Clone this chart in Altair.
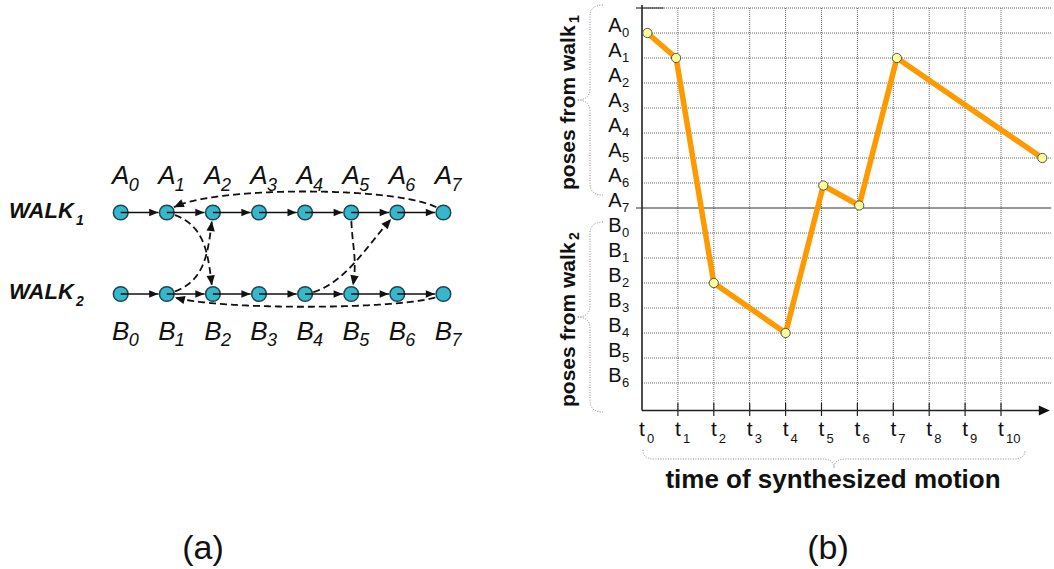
import math
import altair as alt
import pandas as pd

FONT = "Liberation Sans"
INK = "#111111"

# ---------------- (a) two walks and the transitions between them ----------------
walk_label = ["WALK", "WALK"]
walk_index = ["1", "2"]
pose_letter = ["A", "B"]
pose_number = ["0", "1", "2", "3", "4", "5", "6", "7"]

# dashed transitions between poses of the two walks
trans_from = ["A7", "B7", "A1", "B1", "A5", "B4"]
trans_to = ["A1", "B1", "B2", "A2", "B5", "A6"]

# ---------------- (b) motion synthesized from the graph ----------------
time_labels = ["t0", "t1", "t2", "t3", "t4", "t5", "t6", "t7", "t8", "t9", "t10"]
pose_axis_labels = ["A0", "A1", "A2", "A3", "A4", "A5", "A6", "A7",
                    "B0", "B1", "B2", "B3", "B4", "B5", "B6"]
motion_time = [0.15, 0.95, 2.0, 4.0, 5.05, 6.05, 7.1, 11.15]
motion_pose = [0, 1, 10, 12, 6.1, 6.9, 1, 5]

# ---------------- layout / style ----------------
H = 569
PANEL_A_W = 642
PANEL_B_W = 412
NODE_X0, ROW_Y0 = 120.7, 212.5      # pixel position of A0
KX, KY = 46.1, 81.5                  # pixels per pose step / per walk row
NODE_R = 8.3
KT, KP = 35.9, 25.0                  # pixels per time step / per pose row
TOP_PX = 8.0                         # pixel position of the row above A0

# curve handles (pixels) for each dashed transition: near source, near target
HANDLES = [((-22, -28), (22, -28)),
           ((-22, 17), (22, 17)),
           ((40, 10), (-5, -40)),
           ((40, -10), (-5, 40)),
           ((0, 35), (8, -35)),
           ((40, -6), (-28, 28))]

ARROW = "M0,0 L-1,-0.42 L-1,0.42 Z"
BRACE_V = "M0.137,-1 Q0,-1 0,-0.88 L0,-0.12 Q0,0 -0.137,0 Q0,0 0,0.12 L0,0.88 Q0,1 0.137,1"
BRACE_H = "M-1,-0.047 Q-1,0 -0.94,0 L-0.06,0 Q0,0 0,0.047 Q0,0 0.06,0 L0.94,0 Q1,0 1,-0.047"


def arrow_size(length):
    return (2 * length) ** 2


def node_px(name):
    return (KX * int(name[1:]), KY * pose_letter.index(name[0]))


def bezier(p0, p1, p2, p3, t):
    u = 1 - t
    return tuple(u ** 3 * p0[k] + 3 * u * u * t * p1[k] + 3 * u * t * t * p2[k] + t ** 3 * p3[k]
                 for k in range(2))


# ---- (a) data ----
nodes = pd.DataFrame([
    {"x": i, "y": r, "letter": pose_letter[r], "digit": d}
    for r in range(len(pose_letter)) for i, d in enumerate(pose_number)
])

gap = NODE_R / KX
shafts = pd.DataFrame([
    {"x": i, "x2": i + 1 - gap, "y": r}
    for r in range(len(pose_letter)) for i in range(len(pose_number) - 1)
])
solid_heads = pd.DataFrame([
    {"x": i + 1 - (NODE_R + 0.3) / KX, "y": r, "ang": 0.0}
    for r in range(len(pose_letter)) for i in range(len(pose_number) - 1)
])

curve_rows, head_rows = [], []
for e, (src, dst) in enumerate(zip(trans_from, trans_to)):
    p0, p3 = node_px(src), node_px(dst)
    h1, h2 = HANDLES[e]
    p1 = (p0[0] + h1[0], p0[1] + h1[1])
    p2 = (p3[0] + h2[0], p3[1] + h2[1])
    pts = [bezier(p0, p1, p2, p3, k / 300) for k in range(301)]
    pts = [p for p in pts
           if math.dist(p, p0) >= NODE_R and math.dist(p, p3) >= NODE_R + 0.3]
    for s, (px, py) in enumerate(pts):
        curve_rows.append({"edge": e, "seq": s, "x": px / KX, "y": py / KY})
    tip = pts[-1]
    back = next(p for p in reversed(pts) if math.dist(p, tip) >= 3)
    ang = math.degrees(math.atan2(tip[1] - back[1], tip[0] - back[0])) % 360
    head_rows.append({"x": tip[0] / KX, "y": tip[1] / KY, "ang": ang})
curves = pd.DataFrame(curve_rows)
dashed_heads = pd.DataFrame(head_rows)

walks = pd.DataFrame({"y": [0, 1], "name": walk_label, "sub": walk_index})

xa = alt.Scale(domain=[-NODE_X0 / KX, (PANEL_A_W - NODE_X0) / KX], nice=False, zero=False)
ya = alt.Scale(domain=[-ROW_Y0 / KY, (H - ROW_Y0) / KY], reverse=True, nice=False, zero=False)


def XA(f):
    return alt.X(f, type="quantitative", scale=xa, axis=None)


def YA(f):
    return alt.Y(f, type="quantitative", scale=ya, axis=None)


node_layer = alt.Chart(nodes).mark_point(
    shape="circle", filled=True, fill="#36B7CB", stroke="#1d4650", strokeWidth=1.5,
    size=math.pi * NODE_R ** 2, opacity=1
).encode(x=XA("x"), y=YA("y"))

shaft_layer = alt.Chart(shafts).mark_rule(color=INK, strokeWidth=1.6).encode(
    x=XA("x"), x2="x2", y=YA("y"))

solid_head_layer = alt.Chart(solid_heads).mark_point(
    shape=ARROW, filled=True, color=INK, size=arrow_size(9), opacity=1
).encode(x=XA("x"), y=YA("y"), angle=alt.Angle("ang:Q", scale=None))

curve_layer = alt.Chart(curves).mark_line(
    color=INK, strokeWidth=1.8, strokeDash=[7, 4]
).encode(x=XA("x"), y=YA("y"), detail="edge:N", order="seq:Q")

dashed_head_layer = alt.Chart(dashed_heads).mark_point(
    shape=ARROW, filled=True, color=INK, size=arrow_size(10), opacity=1
).encode(x=XA("x"), y=YA("y"), angle=alt.Angle("ang:Q", scale=None))

label_style = dict(font=FONT, fontStyle="italic", color=INK, baseline="alphabetic")
a_nodes = nodes[nodes["letter"] == "A"]
b_nodes = nodes[nodes["letter"] == "B"]
a_letters = alt.Chart(a_nodes).mark_text(fontSize=26, align="center", dy=-28.5, **label_style).encode(
    x=XA("x"), y=YA("y"), text="letter:N")
a_digits = alt.Chart(a_nodes).mark_text(fontSize=18, align="left", dx=8, dy=-22, **label_style).encode(
    x=XA("x"), y=YA("y"), text="digit:N")
b_letters = alt.Chart(b_nodes).mark_text(fontSize=26, align="center", dy=46, **label_style).encode(
    x=XA("x"), y=YA("y"), text="letter:N")
b_digits = alt.Chart(b_nodes).mark_text(fontSize=18, align="left", dx=8, dy=52, **label_style).encode(
    x=XA("x"), y=YA("y"), text="digit:N")

walk_names = alt.Chart(walks).mark_text(
    font=FONT, fontSize=22, fontStyle="italic", fontWeight="bold", color=INK,
    align="left", baseline="alphabetic", dy=5
).encode(x=alt.value(9), y=YA("y"), text="name:N")
walk_subs = alt.Chart(walks).mark_text(
    font=FONT, fontSize=14, fontStyle="italic", fontWeight="bold", color=INK,
    align="left", baseline="alphabetic", dy=12
).encode(x=alt.value(76), y=YA("y"), text="sub:N")

caption_a = alt.Chart(pd.DataFrame({"t": ["(a)"]})).mark_text(
    font=FONT, fontSize=34, color=INK, align="center", baseline="alphabetic"
).encode(x=alt.value(203), y=alt.value(559), text="t:N")

panel_a = alt.layer(
    node_layer, shaft_layer, solid_head_layer, curve_layer, dashed_head_layer,
    a_letters, a_digits, b_letters, b_digits, walk_names, walk_subs, caption_a
).properties(width=PANEL_A_W, height=H)

# ---- (b) data ----
n_pose = len(pose_axis_labels)
sep_row = pose_axis_labels.index("A7")
axis_row = n_pose + 0.1
grid_end = 11.4
left_stub = -6 / KT

pose_df = pd.DataFrame({
    "y": list(range(n_pose)),
    "letter": [p[0] for p in pose_axis_labels],
    "digit": [p[1:] for p in pose_axis_labels],
})
time_df = pd.DataFrame({
    "x": list(range(len(time_labels))),
    "letter": [t[0] for t in time_labels],
    "digit": [t[1:] for t in time_labels],
})
hgrid = pd.DataFrame({"y": [r for r in range(-1, n_pose) if r != sep_row],
                      "x": 0.0, "x2": grid_end})
vgrid = pd.DataFrame({"x": list(range(1, len(time_labels))), "y": -1.0, "y2": axis_row})
solid_h = pd.DataFrame({"y": [sep_row, -1], "x": [left_stub, left_stub], "x2": [grid_end, 0.6]})
y_axis = pd.DataFrame({"x": [0.0], "y": [-1.12], "y2": [axis_row]})
x_axis = pd.DataFrame({"y": [axis_row], "x": [0.0], "x2": [11.25]})
x_head = pd.DataFrame({"x": [11.36], "y": [axis_row], "ang": [0.0]})
ticks = pd.DataFrame({"x": list(range(1, len(time_labels))),
                      "y": axis_row - 0.3, "y2": axis_row + 0.22})
motion = pd.DataFrame({"t": motion_time, "pose": motion_pose})

xb = alt.Scale(domain=[0, PANEL_B_W / KT], nice=False, zero=False)
yb_top = -1 - TOP_PX / KP
yb = alt.Scale(domain=[yb_top, yb_top + H / KP], reverse=True, nice=False, zero=False)


def XB(f):
    return alt.X(f, type="quantitative", scale=xb, axis=None)


def YB(f):
    return alt.Y(f, type="quantitative", scale=yb, axis=None)


hgrid_layer = alt.Chart(hgrid).mark_rule(color="#666666", strokeWidth=1, strokeDash=[1, 1]).encode(
    x=XB("x"), x2="x2", y=YB("y"))
vgrid_layer = alt.Chart(vgrid).mark_rule(color="#666666", strokeWidth=1, strokeDash=[1, 1]).encode(
    x=XB("x"), y=YB("y"), y2="y2")
solid_h_layer = alt.Chart(solid_h).mark_rule(color="#333333", strokeWidth=1.2).encode(
    x=XB("x"), x2="x2", y=YB("y"))
y_axis_layer = alt.Chart(y_axis).mark_rule(color="#222222", strokeWidth=1.6).encode(
    x=XB("x"), y=YB("y"), y2="y2")
x_axis_layer = alt.Chart(x_axis).mark_rule(color="#222222", strokeWidth=1.6).encode(
    x=XB("x"), x2="x2", y=YB("y"))
x_head_layer = alt.Chart(x_head).mark_point(
    shape="M0,0 L-1,-0.45 L-1,0.45 Z", filled=True, color=INK, size=arrow_size(11), opacity=1
).encode(x=XB("x"), y=YB("y"), angle=alt.Angle("ang:Q", scale=None))
tick_layer = alt.Chart(ticks).mark_rule(color="#222222", strokeWidth=1.2).encode(
    x=XB("x"), y=YB("y"), y2="y2")

line_layer = alt.Chart(motion).mark_line(
    color="#FF9900", strokeWidth=5.5, strokeJoin="round"
).encode(x=XB("t"), y=YB("pose"))
point_layer = alt.Chart(motion).mark_point(
    shape="circle", filled=True, fill="#FFFF99", stroke="#555555", strokeWidth=1, size=85, opacity=1
).encode(x=XB("t"), y=YB("pose"))

plain = dict(font=FONT, color=INK, baseline="alphabetic")
pose_letters = alt.Chart(pose_df).mark_text(fontSize=20, align="center", dy=-1, **plain).encode(
    x=alt.value(-27), y=YB("y"), text="letter:N")
pose_digits = alt.Chart(pose_df).mark_text(fontSize=13, align="left", dy=4, **plain).encode(
    x=alt.value(-20), y=YB("y"), text="digit:N")
time_letters = alt.Chart(time_df).mark_text(fontSize=21, align="center", **plain).encode(
    x=XB("x"), y=alt.value(436), text="letter:N")
time_digits = alt.Chart(time_df).mark_text(fontSize=13, align="left", dx=5, **plain).encode(
    x=XB("x"), y=alt.value(443), text="digit:N")

groups = pd.DataFrame({
    "name": ["poses from walk", "poses from walk"],
    "sub": ["1", "2"],
    "start": [190, 407],
    "sub_start": [23, 240],
    "brace_y": [100, 317],
})
group_names = alt.Chart(groups).mark_text(
    font=FONT, fontSize=21, fontWeight="bold", color=INK, angle=270,
    align="left", baseline="alphabetic"
).encode(x=alt.value(-67), y=alt.Y("start:Q", scale=None, axis=None), text="name:N")
group_subs = alt.Chart(groups).mark_text(
    font=FONT, fontSize=14, fontWeight="bold", color=INK, angle=270,
    align="left", baseline="alphabetic"
).encode(x=alt.value(-63), y=alt.Y("sub_start:Q", scale=None, axis=None), text="sub:N")
group_braces = alt.Chart(groups).mark_point(
    shape=BRACE_V, filled=False, stroke="#8a8a8a", strokeWidth=1, strokeDash=[1, 1.5],
    size=190 ** 2, opacity=1
).encode(x=alt.value(-52), y=alt.Y("brace_y:Q", scale=None, axis=None))

time_brace = alt.Chart(pd.DataFrame({"t": ["time"]})).mark_point(
    shape=BRACE_H, filled=False, stroke="#8a8a8a", strokeWidth=1, strokeDash=[1, 1.5],
    size=382 ** 2, opacity=1
).encode(x=alt.value(192), y=alt.value(459))
time_title = alt.Chart(pd.DataFrame({"t": ["time of synthesized motion"]})).mark_text(
    font=FONT, fontSize=26, fontWeight="bold", color=INK, align="center", baseline="alphabetic"
).encode(x=alt.value(191), y=alt.value(488), text="t:N")
caption_b = alt.Chart(pd.DataFrame({"t": ["(b)"]})).mark_text(
    font=FONT, fontSize=34, color=INK, align="center", baseline="alphabetic"
).encode(x=alt.value(186), y=alt.value(559), text="t:N")

panel_b = alt.layer(
    hgrid_layer, vgrid_layer, solid_h_layer, y_axis_layer, x_axis_layer, x_head_layer,
    tick_layer, line_layer, point_layer, pose_letters, pose_digits, time_letters,
    time_digits, group_braces, group_names, group_subs, time_brace, time_title, caption_b
).properties(width=PANEL_B_W, height=H)

chart = alt.hconcat(panel_a, panel_b, spacing=0, bounds="flush").properties(
    padding=0, background="white"
).configure_view(stroke=None, strokeWidth=0)

chart.save("out.html", embed_options={"renderer": "svg", "actions": False})
